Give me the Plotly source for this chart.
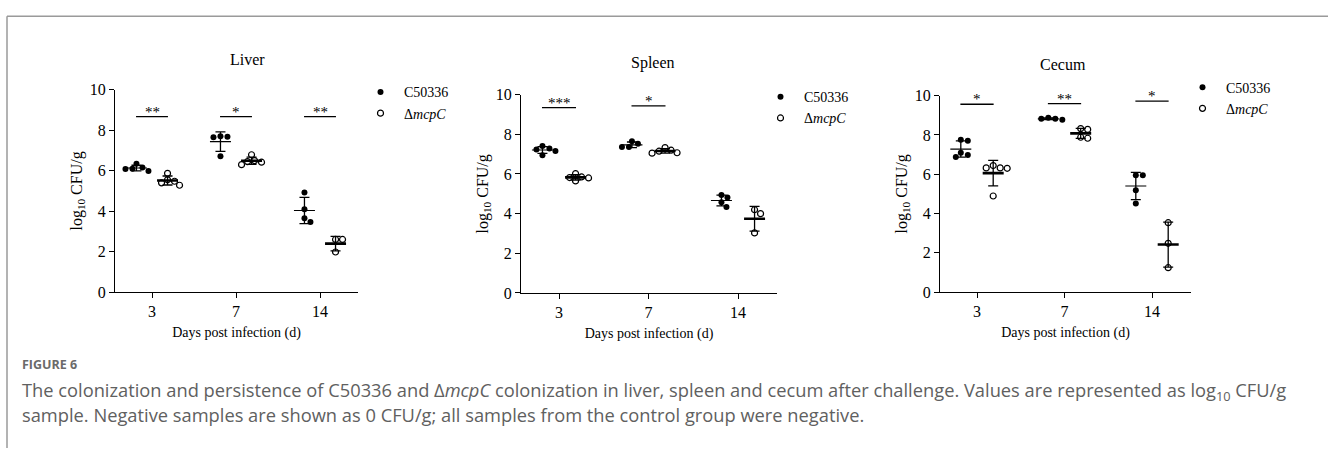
import numpy as np
import plotly.graph_objects as go

# ---------------- data ----------------
days = ["3", "7", "14"]
organs = ["Liver", "Spleen", "Cecum"]
strains = ["C50336", "Δ<i>mcpC</i>"]

liver_wt = [[6.35, 5.98, 6.16, 6.08, 6.10], [7.70, 7.68, 7.66, 6.71], [4.92, 4.10, 3.46, 3.65]]
liver_mut = [[5.55, 5.28, 5.87, 5.40, 5.48], [6.79, 6.50, 6.45, 6.42, 6.30], [2.60, 2.60, 1.98]]
spleen_wt = [[7.24, 7.41, 6.95, 7.16, 7.29], [7.36, 7.52, 7.65, 7.36], [4.81, 4.94, 4.57, 4.33]]
spleen_mut = [[5.65, 6.02, 5.80, 5.82, 5.85], [7.05, 7.20, 7.33, 7.07, 7.15], [4.20, 4.00, 3.03]]
cecum_wt = [[7.75, 7.70, 6.88, 7.09, 6.98], [8.77, 8.87, 8.82, 8.82], [5.95, 5.95, 5.18, 4.51]]
cecum_mut = [[6.44, 6.30, 6.32, 6.32, 4.89], [8.28, 8.32, 7.83, 7.88], [3.53, 2.48, 1.24]]

liver_sig = ["**", "*", "**"]
spleen_sig = ["***", "*", ""]
cecum_sig = ["*", "**", "*"]

liver_sig_y = [8.68, 8.68, 8.68]
spleen_sig_y = [9.35, 9.43, None]
cecum_sig_y = [9.56, 9.59, 9.72]

y_ticks = [0, 2, 4, 6, 8, 10]

# ---------------- layout constants (pixels) ----------------
W, H = 1328, 457
SERIF = "Liberation Serif"
panels = [
    dict(data=(liver_wt, liver_mut), sig=liver_sig, sig_y=liver_sig_y,
         xpx=(115, 358), ypx=(85, 295), tick0=152, tick2=320,
         title_px=(247, 53), leg_px=(357, 71)),
    dict(data=(spleen_wt, spleen_mut), sig=spleen_sig, sig_y=spleen_sig_y,
         xpx=(521, 777), ypx=(90, 296), tick0=559, tick2=738,
         title_px=(653, 57), leg_px=(757, 76)),
    dict(data=(cecum_wt, cecum_mut), sig=cecum_sig, sig_y=cecum_sig_y,
         xpx=(940, 1191), ypx=(91, 295), tick0=977, tick2=1152,
         title_px=(1063, 59), leg_px=(1179, 66)),
]
DODGE = 0.185
BAR_HALF = 0.19


def px2x(p):
    return p / W


def px2y(p):
    return 1 - p / H


def swarm(values, px_per_x, px_per_y, dmin=6.5, step=1.0):
    """Simple beeswarm: spread overlapping points sideways."""
    vals = np.asarray(values, dtype=float)
    order = np.argsort(-vals)
    placed = []
    offs = np.zeros(len(vals))
    for i in order:
        k = 0
        while True:
            c = ((k + 1) // 2) * step * (1 if k % 2 else -1)
            if all(np.hypot(c - o, (vals[i] - v) * px_per_y) >= dmin for o, v in placed):
                break
            k += 1
        offs[i] = c
        placed.append((c, vals[i]))
    return offs / px_per_x


fig = go.Figure()
annotations = []

for pi, p in enumerate(panels):
    n = "" if pi == 0 else str(pi + 1)
    xa, ya = "x" + n, "y" + n
    leg = "legend" + n
    px_per_x = (p["tick2"] - p["tick0"]) / 2.0
    px_per_y = (p["ypx"][1] - p["ypx"][0]) / 10.0
    x_lo = (p["xpx"][0] - p["tick0"]) / px_per_x
    x_hi = (p["xpx"][1] - p["tick0"]) / px_per_x

    for si, series in enumerate(p["data"]):
        sign = -1 if si == 0 else 1
        xs, ys = [], []
        for g, vals in enumerate(series):
            offs = swarm(vals, px_per_x, px_per_y)
            xs += list(g + sign * DODGE + offs)
            ys += list(vals)
        if si == 0:
            marker = dict(symbol="circle", size=6, color="black", line=dict(width=0))
        else:
            marker = dict(symbol="circle", size=6, color="white", line=dict(width=1.2, color="black"))
        fig.add_trace(go.Scatter(x=xs, y=ys, mode="markers", marker=marker, name=strains[si],
                                 xaxis=xa, yaxis=ya, legend=leg, showlegend=True, hoverinfo="y"))
        means = [float(np.mean(v)) for v in series]
        sds = [float(np.std(v, ddof=1)) for v in series]
        fig.add_trace(go.Scatter(
            x=[g + sign * DODGE for g in range(len(series))], y=means, mode="markers",
            marker=dict(symbol="line-ew", size=15, color="black",
                        line=dict(width=1.2 if si == 0 else 2.6, color="black")),
            error_y=dict(type="data", array=sds, visible=True, width=5, thickness=1.3, color="black"),
            xaxis=xa, yaxis=ya, showlegend=False, hoverinfo="skip"))

    # significance bars
    bx, by = [], []
    for g, (lab, h) in enumerate(zip(p["sig"], p["sig_y"])):
        if not lab:
            continue
        bx += [g - BAR_HALF, g + BAR_HALF, None]
        by += [h, h, None]
        annotations.append(dict(x=g, y=h, xref=xa, yref=ya, text=lab, showarrow=False,
                                xanchor="center", yanchor="bottom", yshift=-5,
                                font=dict(family=SERIF, size=15, color="black")))
    fig.add_trace(go.Scatter(x=bx, y=by, mode="lines", line=dict(color="black", width=1.3),
                             xaxis=xa, yaxis=ya, showlegend=False, hoverinfo="skip"))

    axis_common = dict(showline=True, linecolor="black", linewidth=1.3, ticks="outside",
                       ticklen=5, tickwidth=1.3, tickcolor="black", showgrid=False, zeroline=False,
                       tickfont=dict(family=SERIF, size=16, color="black"))
    fig.update_layout(**{
        ("xaxis" + n): dict(domain=[px2x(p["xpx"][0]), px2x(p["xpx"][1])], range=[x_lo, x_hi],
                            tickvals=list(range(len(days))), ticktext=days, anchor=ya,
                            title=dict(text="Days post infection (d)", standoff=7,
                                       font=dict(family=SERIF, size=14, color="black")),
                            **axis_common),
        ("yaxis" + n): dict(domain=[px2y(p["ypx"][1]), px2y(p["ypx"][0])], range=[0, 10],
                            tickvals=y_ticks, anchor=xa,
                            title=dict(text="log<sub>10</sub> CFU/g", standoff=3,
                                       font=dict(family=SERIF, size=16, color="black")),
                            **axis_common),
        leg: dict(x=px2x(p["leg_px"][0]), y=px2y(p["leg_px"][1]), xanchor="left", yanchor="top",
                  font=dict(family=SERIF, size=14, color="black"), bgcolor="rgba(0,0,0,0)",
                  itemwidth=37, tracegroupgap=0),
    })
    annotations.append(dict(x=px2x(p["title_px"][0]), y=px2y(p["title_px"][1]), xref="paper",
                            yref="paper", text=organs[pi], showarrow=False, xanchor="center",
                            yanchor="middle", font=dict(family=SERIF, size=16, color="black")))

# caption
CAP = "Open Sans"
annotations += [
    dict(x=px2x(20), y=px2y(370), xref="paper", yref="paper", xanchor="left", yanchor="middle",
         text="<b>FIGURE 6</b>", showarrow=False, font=dict(family=CAP, size=12.5, color="#6a6a6a")),
    dict(x=px2x(20), y=px2y(398), xref="paper", yref="paper", xanchor="left", yanchor="middle",
         text="The colonization and persistence of C50336 and Δ<i>mcpC</i> colonization in liver, spleen and cecum after challenge. Values are represented as log<sub>10</sub> CFU/g",
         showarrow=False, font=dict(family=CAP, size=18.3, color="#606060")),
    dict(x=px2x(20), y=px2y(422), xref="paper", yref="paper", xanchor="left", yanchor="middle",
         text="sample. Negative samples are shown as 0 CFU/g; all samples from the control group were negative.",
         showarrow=False, font=dict(family=CAP, size=18.3, color="#606060")),
]

shapes = [
    dict(type="line", xref="paper", yref="paper", x0=px2x(7), x1=1, y0=px2y(8.5), y1=px2y(8.5),
         line=dict(color="#9a9a9a", width=1.5)),
    dict(type="line", xref="paper", yref="paper", x0=px2x(7), x1=px2x(7), y0=px2y(8.5), y1=0,
         line=dict(color="#9a9a9a", width=1.5)),
]

fig.update_layout(width=W, height=H, margin=dict(l=0, r=0, t=0, b=0),
                  font=dict(family=SERIF, size=16, color="black"),
                  paper_bgcolor="white", plot_bgcolor="white",
                  annotations=annotations, shapes=shapes, showlegend=True)

fig.write_html("out.html", config={"displayModeBar": False},
               post_script="document.body.style.margin='0';")
